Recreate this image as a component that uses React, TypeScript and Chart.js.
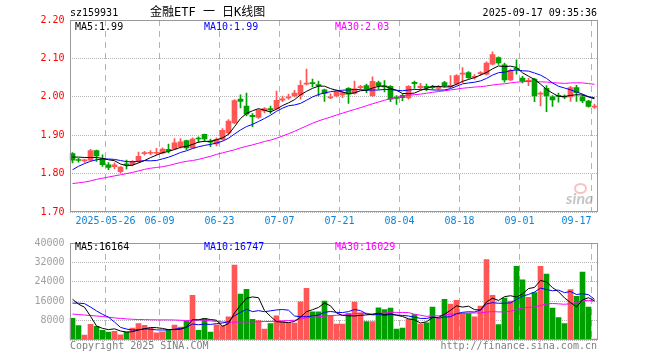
import React, { useEffect, useRef } from "react";
import { Chart, registerables } from "chart.js";

Chart.register(...registerables);

// ---------- data ----------
const dates = [
  "2025-05-16","2025-05-19","2025-05-20","2025-05-21","2025-05-22","2025-05-23","2025-05-26","2025-05-27","2025-05-28","2025-05-29",
  "2025-05-30","2025-06-03","2025-06-04","2025-06-05","2025-06-06","2025-06-09","2025-06-10","2025-06-11","2025-06-12","2025-06-13",
  "2025-06-16","2025-06-17","2025-06-18","2025-06-19","2025-06-20","2025-06-23","2025-06-24","2025-06-25","2025-06-26","2025-06-27",
  "2025-06-30","2025-07-01","2025-07-02","2025-07-03","2025-07-04","2025-07-07","2025-07-08","2025-07-09","2025-07-10","2025-07-11",
  "2025-07-14","2025-07-15","2025-07-16","2025-07-17","2025-07-18","2025-07-21","2025-07-22","2025-07-23","2025-07-24","2025-07-25",
  "2025-07-28","2025-07-29","2025-07-30","2025-07-31","2025-08-01","2025-08-04","2025-08-05","2025-08-06","2025-08-07","2025-08-08",
  "2025-08-11","2025-08-12","2025-08-13","2025-08-14","2025-08-15","2025-08-18","2025-08-19","2025-08-20","2025-08-21","2025-08-22",
  "2025-08-25","2025-08-26","2025-08-27","2025-08-28","2025-08-29","2025-09-01","2025-09-02","2025-09-03","2025-09-04","2025-09-05",
  "2025-09-08","2025-09-09","2025-09-10","2025-09-11","2025-09-12","2025-09-15","2025-09-16","2025-09-17",
];

const opens = [
  1.852,1.836,1.833,1.835,1.860,1.839,1.823,1.818,1.805,1.825,
  1.823,1.831,1.852,1.853,1.853,1.853,1.863,1.864,1.870,1.886,
  1.867,1.892,1.902,1.884,1.877,1.889,1.906,1.932,1.994,1.976,
  1.952,1.946,1.963,1.969,1.969,1.991,1.997,2.002,2.004,2.033,
  2.037,2.031,2.018,1.997,2.002,2.005,2.022,2.009,2.024,2.029,
  2.003,2.037,2.028,2.027,1.999,2.004,1.997,2.038,2.024,2.027,
  2.026,2.022,2.037,2.026,2.033,2.059,2.063,2.051,2.060,2.059,
  2.085,2.102,2.083,2.044,2.074,2.049,2.040,2.046,2.007,2.022,
  2.000,2.004,2.002,2.000,2.024,2.000,1.989,1.973,
];
const highs = [
  1.855,1.840,1.838,1.863,1.861,1.849,1.829,1.828,1.818,1.835,
  1.834,1.856,1.858,1.860,1.866,1.867,1.877,1.891,1.891,1.887,
  1.893,1.896,1.903,1.890,1.893,1.917,1.941,1.993,2.005,2.010,
  1.956,1.967,1.972,1.976,2.015,2.002,2.007,2.017,2.042,2.072,
  2.046,2.041,2.020,2.008,2.018,2.015,2.024,2.041,2.030,2.033,
  2.052,2.041,2.042,2.029,2.003,2.007,2.029,2.041,2.035,2.033,
  2.030,2.030,2.040,2.055,2.058,2.076,2.066,2.058,2.066,2.091,
  2.117,2.104,2.088,2.072,2.096,2.053,2.048,2.048,2.013,2.029,
  2.003,2.010,2.005,2.027,2.030,2.005,1.991,1.981,
];
const lows = [
  1.828,1.830,1.829,1.833,1.832,1.819,1.810,1.812,1.802,1.812,
  1.820,1.829,1.848,1.849,1.849,1.851,1.854,1.862,1.866,1.862,
  1.866,1.881,1.884,1.870,1.872,1.887,1.902,1.930,1.971,1.950,
  1.922,1.944,1.958,1.957,1.967,1.987,1.993,2.000,1.994,2.031,
  2.026,2.002,1.988,1.995,2.000,1.998,1.983,2.007,2.020,2.011,
  2.001,2.020,2.013,1.987,1.980,1.989,1.994,2.022,2.020,2.016,
  2.020,2.018,2.025,2.024,2.030,2.037,2.048,2.046,2.056,2.057,
  2.083,2.084,2.038,2.042,2.059,2.036,2.029,1.987,1.976,1.961,
  1.975,1.986,1.995,1.988,1.988,1.985,1.973,1.970,
];
const closes = [
  1.835,1.834,1.835,1.860,1.846,1.823,1.816,1.823,1.817,1.823,
  1.831,1.845,1.854,1.855,1.855,1.864,1.860,1.880,1.883,1.867,
  1.890,1.890,1.890,1.882,1.889,1.913,1.937,1.990,1.988,1.955,
  1.948,1.965,1.969,1.966,1.991,1.995,2.000,2.010,2.030,2.036,
  2.034,2.029,2.009,1.999,2.014,2.011,2.007,2.021,2.026,2.020,
  2.040,2.029,2.026,1.994,1.996,1.998,2.027,2.034,2.028,2.023,
  2.024,2.025,2.029,2.030,2.055,2.062,2.050,2.053,2.063,2.088,
  2.110,2.088,2.044,2.069,2.071,2.041,2.043,2.002,2.009,2.002,
  1.992,2.001,1.999,2.024,2.011,1.989,1.975,1.975,
];
const volumes = [
  8900,5900,2000,6500,5600,4000,3300,3600,2100,3300,
  4900,6800,6000,4800,2930,3330,4270,6130,5330,7730,
  18400,4000,8800,3300,6270,5870,9600,30900,18900,20900,
  8500,8000,4500,6800,10000,7600,6930,6930,15700,21300,
  11600,11600,16000,10000,6530,6530,10900,15600,11200,7600,
  7600,13300,12500,13200,4530,4930,8530,10500,6530,7100,
  13600,8930,16800,14800,16400,10900,10900,9600,14000,33200,
  18400,6400,17300,16000,30400,24800,17600,19600,30400,27200,
  13200,9200,6800,20800,18000,28000,13600,400,
];

// moving-average values at the left edge (window starts before the first visible day)
const priceMa5Lead = [1.843, 1.843, 1.842, 1.842];
const priceMa10Lead = [1.810, 1.819, 1.826, 1.832, 1.836, 1.838, 1.838, 1.837, 1.834];
const priceMa30Lead = [
  1.774,1.776,1.778,1.781,1.785,1.788,1.791,1.794,1.797,1.800,
  1.803,1.807,1.811,1.814,1.816,1.818,1.821,1.825,1.829,1.832,
  1.834,1.837,1.841,1.845,1.850,1.854,1.858,1.862,1.867,
];
const volMa5Lead = [16800, 14800, 13500, 9800];
const volMa10Lead = [15200, 15200, 15000, 13600, 12000, 10600, 9400, 7400, 5200];
const volMa30Lead = [
  10700,10500,10300,10100,9900,9700,9400,9100,8900,8700,
  8550,8450,8400,8350,8300,8300,8300,8250,8150,8050,
  8100,8250,8100,7900,7650,7450,7350,7350,7400,
];

const xTickDates = ["2025-05-26","2025-06-09","2025-06-23","2025-07-07","2025-07-21","2025-08-04","2025-08-18","2025-09-01","2025-09-17"];
const xTickTexts = ["2025-05-26","06-09","06-23","07-07","07-21","08-04","08-18","09-01","09-17"];

const symbolText = "sz159931";
const titleText = "金融ETF 一 日K线图";
const timeText = "2025-09-17 09:35:36";
const priceLegend = ["MA5:1.99", "MA10:1.99", "MA30:2.03"];
const volLegend = ["MA5:16164", "MA10:16747", "MA30:16029"];
const footLeft = "Copyright 2025 SINA.COM";
const footRight = "http://finance.sina.com.cn";

// ---------- styles ----------
const MONO = '"DejaVu Sans Mono", monospace';
const UP = "#ff5656";
const DOWN = "#00a000";
const GRID = "#b4b4b4";
const MA_COLORS = ["#000000", "#0000ff", "#ff00ff"];

function movingAverage(values: number[], n: number, lead: number[]): number[] {
  return values.map((_, i) => {
    if (i < n - 1) return lead[i];
    let s = 0;
    for (let j = i - n + 1; j <= i; j++) s += values[j];
    return s / n;
  });
}

const frame = {
  id: "frame",
  afterDraw(chart: any) {
    const { ctx, chartArea: a } = chart;
    const x1 = Math.round(a.left) + 0.5;
    const x2 = Math.floor(a.right) + 0.5;
    const y1 = Math.round(a.top) + 0.5;
    const y2 = Math.round(a.bottom) - 0.5;
    ctx.save();
    ctx.setLineDash([]);
    ctx.strokeStyle = "#999999";
    ctx.lineWidth = 1;
    ctx.strokeRect(x1, y1, x2 - x1, y2 - y1);
    ctx.restore();
  },
};

function tickText(i: number): string {
  const j = xTickDates.indexOf(dates[i]);
  if (j < 0) return "";
  if (j === xTickTexts.length - 1) return xTickTexts[j] + "     ";
  return xTickTexts[j];
}

function xScale(withLabels: boolean, height: number) {
  return {
    type: "category",
    offset: true,
    grid: {
      offset: true,
      drawTicks: false,
      lineWidth: 1,
      color: (ctx: any) => (xTickDates.includes(dates[ctx.index]) ? GRID : "rgba(0,0,0,0)"),
    },
    border: { display: false, dash: [6, 5] },
    ticks: {
      display: withLabels,
      autoSkip: false,
      maxRotation: 0,
      minRotation: 0,
      padding: 3,
      labelOffset: -3,
      color: "#0b84d9",
      font: { family: MONO, size: 10 },
      callback: (_v: any, i: number) => tickText(i),
    },
    afterFit: (s: any) => {
      s.height = height;
    },
  };
}

function lineSet(data: number[], color: string) {
  return {
    type: "line",
    data,
    borderColor: color,
    borderWidth: 1,
    pointRadius: 0,
    fill: false,
    tension: 0,
    order: 0,
  };
}

export default function App() {
  const priceRef = useRef<HTMLCanvasElement>(null);
  const volRef = useRef<HTMLCanvasElement>(null);

  useEffect(() => {
    const colors = closes.map((c, i) => (c >= opens[i] ? UP : DOWN));
    const pMa5 = movingAverage(closes, 5, priceMa5Lead);
    const pMa10 = movingAverage(closes, 10, priceMa10Lead);
    const pMa30 = movingAverage(closes, 30, priceMa30Lead);
    const vMa5 = movingAverage(volumes, 5, volMa5Lead);
    const vMa10 = movingAverage(volumes, 10, volMa10Lead);
    const vMa30 = movingAverage(volumes, 30, volMa30Lead);

    const common: any = {
      responsive: false,
      animation: false,
      devicePixelRatio: 1,
      events: [],
      plugins: { legend: { display: false }, tooltip: { enabled: false } },
    };

    const price = new Chart(priceRef.current as HTMLCanvasElement, {
      type: "bar",
      data: {
        labels: dates,
        datasets: [
          lineSet(pMa5, MA_COLORS[0]),
          lineSet(pMa10, MA_COLORS[1]),
          lineSet(pMa30, MA_COLORS[2]),
          {
            type: "bar",
            data: lows.map((l, i) => [l, highs[i]]),
            backgroundColor: colors,
            barThickness: 1,
            grouped: false,
            minBarLength: 1,
            borderWidth: 0,
            order: 2,
          },
          {
            type: "bar",
            data: opens.map((o, i) => [o, closes[i]]),
            backgroundColor: colors,
            barThickness: 5,
            grouped: false,
            minBarLength: 1,
            borderWidth: 0,
            order: 1,
          },
        ] as any,
      },
      options: {
        ...common,
        layout: { padding: { left: 0, right: 62.5, top: 20, bottom: 0 } },
        scales: {
          x: xScale(true, 20) as any,
          y: {
            type: "linear",
            min: 1.7,
            max: 2.2,
            ticks: {
              stepSize: 0.1,
              callback: (v: any) => Number(v).toFixed(2),
              color: "#ff0000",
              font: { family: MONO, size: 10 },
              padding: 5,
            },
            grid: { color: GRID, drawTicks: false, lineWidth: 1 },
            border: { display: false, dash: [1, 1] },
            afterFit: (s: any) => {
              s.width = 69.5;
            },
          } as any,
        },
      },
      plugins: [frame],
    });

    const vol = new Chart(volRef.current as HTMLCanvasElement, {
      type: "bar",
      data: {
        labels: dates,
        datasets: [
          lineSet(vMa5, MA_COLORS[0]),
          lineSet(vMa10, MA_COLORS[1]),
          lineSet(vMa30, MA_COLORS[2]),
          {
            type: "bar",
            data: volumes,
            backgroundColor: colors,
            barThickness: 5,
            grouped: false,
            borderWidth: 0,
            order: 1,
          },
        ] as any,
      },
      options: {
        ...common,
        layout: { padding: { left: 0, right: 62.5, top: 8, bottom: 20 } },
        scales: {
          x: xScale(false, 0) as any,
          y: {
            type: "linear",
            min: 0,
            max: 40000,
            ticks: {
              stepSize: 8000,
              callback: (v: any) => (Number(v) === 0 ? "" : String(v)),
              color: "#a0a0a0",
              font: { family: MONO, size: 10 },
              padding: 5,
            },
            grid: { color: GRID, drawTicks: false, lineWidth: 1 },
            border: { display: false, dash: [1, 1] },
            afterFit: (s: any) => {
              s.width = 69.5;
            },
          } as any,
        },
      },
      plugins: [frame],
    });

    return () => {
      price.destroy();
      vol.destroy();
    };
  }, []);

  const txt = (s: React.CSSProperties): React.CSSProperties => ({
    position: "absolute",
    font: `10px ${MONO}`,
    lineHeight: "10px",
    whiteSpace: "pre",
    color: "#000",
    ...s,
  });

  return (
    <div
      style={{
        position: "fixed",
        left: 0,
        top: 0,
        width: 660,
        height: 360,
        background: "#fff",
        overflow: "hidden",
      }}
    >
      <canvas ref={priceRef} width={660} height={232} style={{ position: "absolute", left: 0, top: 0 }} />
      <canvas ref={volRef} width={660} height={128} style={{ position: "absolute", left: 0, top: 232 }} />

      <div style={txt({ left: 70, top: 8 })}>{symbolText}</div>
      <div
        style={{
          position: "absolute",
          left: 150,
          top: 6,
          font: `12px "DejaVu Sans Mono", "Noto Sans CJK SC"`,
          lineHeight: "12px",
          whiteSpace: "pre",
          color: "#000",
        }}
      >
        {titleText}
      </div>
      <div style={txt({ right: 63, top: 8 })}>{timeText}</div>

      <div style={txt({ left: 75, top: 21.5, color: MA_COLORS[0] })}>{priceLegend[0]}</div>
      <div style={txt({ left: 204, top: 21.5, color: MA_COLORS[1] })}>{priceLegend[1]}</div>
      <div style={txt({ left: 335, top: 21.5, color: MA_COLORS[2] })}>{priceLegend[2]}</div>

      <div style={txt({ left: 75, top: 242, color: MA_COLORS[0] })}>{volLegend[0]}</div>
      <div style={txt({ left: 204, top: 242, color: MA_COLORS[1] })}>{volLegend[1]}</div>
      <div style={txt({ left: 335, top: 242, color: MA_COLORS[2] })}>{volLegend[2]}</div>

      <div
        style={{
          position: "absolute",
          left: 574,
          top: 183,
          width: 9,
          height: 7,
          borderRadius: "50%",
          border: "2px solid rgba(240,120,120,0.45)",
        }}
      />
      <div
        style={{
          position: "absolute",
          left: 566,
          top: 190,
          font: `italic bold 16px Lato`,
          lineHeight: "16px",
          color: "rgba(150,150,150,0.55)",
        }}
      >
        sina
      </div>

      <div style={txt({ left: 70, top: 340.5, color: "#808080" })}>{footLeft}</div>
      <div style={txt({ right: 63, top: 340.5, color: "#808080" })}>{footRight}</div>
    </div>
  );
}
